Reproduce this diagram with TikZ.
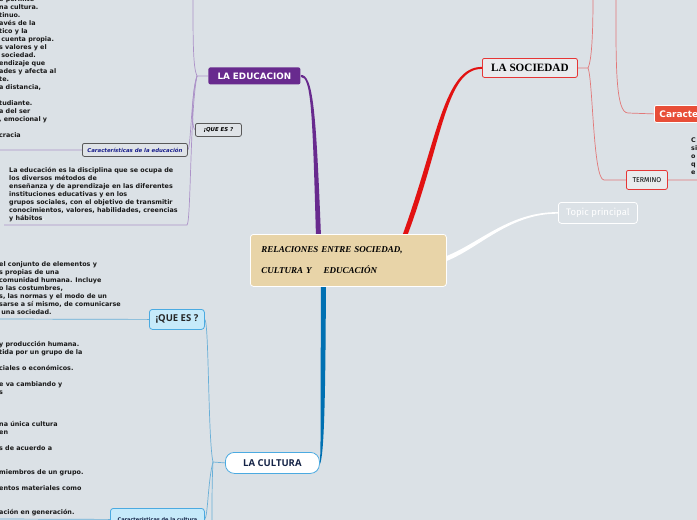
\documentclass[tikz,border=0pt]{standalone}
\usepackage{fontspec}
\setmainfont{DejaVu Sans}
\newfontfamily\timesfont{Liberation Serif}
\newfontfamily\opensans{Open Sans}
\newfontfamily\firafont{Fira Sans}
\usepackage{tikz}
\usetikzlibrary{positioning, calc, backgrounds}
\definecolor{bgGrey}{RGB}{219,225,230}
\definecolor{mainTan}{RGB}{232,212,168}
\definecolor{eduPurple}{RGB}{104,42,142}
\definecolor{eduLine}{RGB}{172,146,200}
\definecolor{socRed}{RGB}{226,18,18}
\definecolor{socLine}{RGB}{226,120,120}
\definecolor{socFill}{RGB}{233,235,238}
\definecolor{carRed}{RGB}{232,78,56}
\definecolor{culBlue}{RGB}{0,112,178}
\definecolor{culLine}{RGB}{105,175,215}
\definecolor{culFill}{RGB}{198,234,250}
\definecolor{culBorder}{RGB}{75,170,225}
\definecolor{culNavy}{RGB}{20,35,70}
\definecolor{nodeGrey}{RGB}{223,227,231}
\definecolor{carBlue}{RGB}{25,30,140}
\definecolor{txtDark}{RGB}{25,25,25}
\newcommand{\tstrut}{\rule{0pt}{6pt}}

\begin{document}
\begin{tikzpicture}[x=1pt, y=-1pt,
        txt/.style={anchor=north west, inner sep=0pt, align=left, text=txtDark,
            font=\bfseries\fontsize{6.4}{8}\selectfont},
        box/.style={anchor=north west, rectangle, rounded corners=2pt, inner sep=0pt, line width=0.8pt},
        lnk/.style={line width=0.7pt}
    ]
    \begin{scope}[on background layer]
        \fill[bgGrey] (0,0) rectangle (697,520);
    \end{scope}
    \useasboundingbox (0,0) rectangle (697,520);

    % centre
    \node[box, fill=mainTan, draw=white, rounded corners=3pt, minimum width=196pt, minimum height=52pt, text width=174pt,
        inner xsep=11pt, align=left, font=\timesfont\bfseries\itshape\fontsize{9}{21}\selectfont]
        (main) at (250,234) {RELACIONES ENTRE SOCIEDAD,\\CULTURA Y\hspace{12pt}EDUCACIÓN};

    % main branches
    \node[box, fill=eduPurple, text=white, minimum width=92pt, minimum height=17pt,
        font=\bfseries\fontsize{8.8}{10}\selectfont] (edu) at (208,67) {LA EDUCACION};
    \node[box, fill=socFill, draw=socRed!85, minimum width=95pt, minimum height=19pt,
        font=\timesfont\bfseries\fontsize{11.2}{12}\selectfont] (soc) at (482,58) {LA SOCIEDAD};
    \node[box, fill=white, draw=culBorder, rounded corners=9pt, minimum width=94pt, minimum height=21pt,
        text=culNavy, font=\opensans\bfseries\fontsize{9.5}{11}\selectfont] (cul) at (225,452) {LA CULTURA};
    \node[box, draw=white, rounded corners=3pt, minimum width=79pt, minimum height=21pt, text=white,
        font=\firafont\fontsize{9.5}{10}\selectfont] (top) at (558,202) {Topic principal};

    % la educacion
    \node[box, fill=nodeGrey, draw=black!65, minimum width=46pt, minimum height=13pt,
        font=\bfseries\itshape\fontsize{5.4}{6}\selectfont] (edQue) at (195,123) {¡QUE ES ?};
    \node[box, fill=nodeGrey, draw=black!65, minimum width=105pt, minimum height=13pt, text=carBlue,
        font=\bfseries\itshape\fontsize{5.4}{6}\selectfont] (edCar) at (82,143) {Características de la educación};
    \node[txt] (edCarTxt) at (-1,-4.7) {\tstrut e permite\\na cultura.\\tinuo.\\avés de la\\tico y la\\~cuenta propia.\\s valores y el\\~sociedad.\\endizaje que\\ades y afecta al\\te.\\a distancia,\\~\\tudiante.\\a del ser\\, emocional y\\~\\cracia};
    \node[txt] (edQueTxt) at (9,166.7) {\tstrut La educación es la disciplina que se ocupa de\\los diversos métodos de\\enseñanza y de aprendizaje en las diferentes\\instituciones educativas y en los\\grupos sociales, con el objetivo de transmitir\\conocimientos, valores, habilidades, creencias\\y hábitos{\color{white!80!bgGrey}.}};

    % la sociedad
    \node[box, fill=carRed, draw=white, text=white, minimum height=17pt, text width=50pt, inner xsep=5pt,
        align=left, font=\bfseries\fontsize{9}{10}\selectfont] (soCar) at (654,105) {Caracte};
    \node[box, fill=socFill, draw=socRed!85, minimum width=41pt, minimum height=19pt,
        font=\firafont\fontsize{7}{8}\selectfont] (soTer) at (626,170) {TERMINO};
    \node[txt] (soTerTxt) at (691,136.5) {\tstrut C\\si\\o\\q\\e};

    % la cultura
    \node[box, fill=culFill, draw=culBorder, rounded corners=3pt, minimum width=55pt, minimum height=20pt,
        text=black!85, font=\opensans\bfseries\fontsize{9.5}{11}\selectfont] (cuQue) at (149,309) {¡QUE ES ?};
    \node[box, fill=culFill, draw=culBorder, rounded corners=3pt, minimum width=94pt, minimum height=22pt,
        text=culNavy, font=\bfseries\fontsize{5}{6}\selectfont] (cuCar) at (110,508) {Características de la cultura};
    \node[txt] (cuQueTxt) at (-1,260) {\tstrut el conjunto de elementos y\\s propias de una\\comunidad humana. Incluye\\o las costumbres,\\s, las normas y el modo de un\\sarse a sí mismo, de comunicarse\\~una sociedad.};
    \node[txt] (cuCarTxt) at (-1,340) {\tstrut y producción humana.\\tida por un grupo de la\\~\\ciales o económicos.\\~\\e va cambiando y\\s\\~\\~\\~\\na única cultura\\en\\~\\s de acuerdo a\\~\\~\\miembros de un grupo.\\~\\entos materiales como\\~\\~\\ación en generación.};

    \coordinate (ej) at (197,76);
    \coordinate (edUp) at (193,-2);
    \coordinate (edDn) at (187,225);
    \coordinate (edDnL) at (4,225);
    \coordinate (edL) at (-2,150);
    \coordinate (sj) at (588,68);
    \coordinate (soUp) at (593,-2);
    \coordinate (soUpB) at (616,-2);
    \coordinate (soMid) at (628,113);
    \coordinate (soDn) at (604,180);
    \coordinate (soR) at (699,180);
    \coordinate (cj) at (213,462);
    \coordinate (cuDn) at (212,522);
    \coordinate (cuL) at (-2,319);
    \coordinate (cuLB) at (-2,519);

    \begin{scope}[on background layer]
        % thick branches, tapered
        \fill[eduPurple] ([xshift=-32.5pt]main.north) .. controls (312.5,110) and (311,76.5) .. ([yshift=-1pt]edu.east)
            -- ([yshift=1pt]edu.east) .. controls (313,74.5) and (316,110) .. ([xshift=-27.5pt]main.north) -- cycle;
        \fill[socRed] ([xshift=54.5pt]main.north) .. controls (437.5,139) and (444,66.5) .. ([yshift=1pt]soc.west)
            -- ([yshift=-1pt]soc.west) .. controls (446,68.5) and (442.5,141) .. ([xshift=59.5pt]main.north) -- cycle;
        \fill[white] ([yshift=4.5pt]main.east) .. controls (480,242.5) and (510,211.7) .. ([yshift=0.8pt]top.west)
            -- ([yshift=-0.8pt]top.west) .. controls (510,213.3) and (480,247.5) .. ([yshift=-0.5pt]main.east) -- cycle;
        \fill[culBlue] ([xshift=-27.5pt]main.south) .. controls (320.5,400) and (321,455) .. ([yshift=1.5pt]cul.east)
            -- ([yshift=-1.5pt]cul.east) .. controls (324,457) and (325.5,400) .. ([xshift=-22.5pt]main.south) -- cycle;
        % la educacion
        \draw[lnk, eduLine] (edu.west) -- (ej);
        \draw[lnk, eduLine] (ej) .. controls (193,68) and (193,40) .. (edUp);
        \draw[lnk, eduLine] (ej) .. controls (192,90) and (191,128) .. (edQue.west);
        \draw[lnk, eduLine] (ej) .. controls (191,95) and (191,148) .. (edCar.east);
        \draw[lnk, eduLine] (ej) .. controls (190,110) and (191,222) .. (edDn) -- (edDnL);
        \draw[lnk, eduLine] (edCar.west) -- (edL);
        % la sociedad
        \draw[lnk, socLine] (soc.east) -- (sj);
        \draw[lnk, socLine] (sj) .. controls (592,60) and (593,30) .. (soUp);
        \draw[lnk, socLine] (sj) .. controls (593,80) and (593,180) .. (soDn) -- (soTer.west);
        \draw[lnk, socLine] (soUpB) .. controls (616,60) and (615,113) .. (soMid) -- (soCar.west);
        \draw[lnk, socLine] (soTer.east) -- (soR);
        % la cultura
        \draw[lnk, culLine] (cul.west) -- (cj);
        \draw[lnk, culLine] (cj) .. controls (208,440) and (209,322) .. (cuQue.east);
        \draw[lnk, culLine] (cj) .. controls (208,480) and (208,515) .. (cuCar.east);
        \draw[lnk, culLine] (cj) .. controls (212,480) and (212,500) .. (cuDn);
        \draw[lnk, culLine] (cuQue.west) -- (cuL);
        \draw[lnk, culLine] (cuCar.west) -- (cuLB);
    \end{scope}
\end{tikzpicture}
\end{document}
